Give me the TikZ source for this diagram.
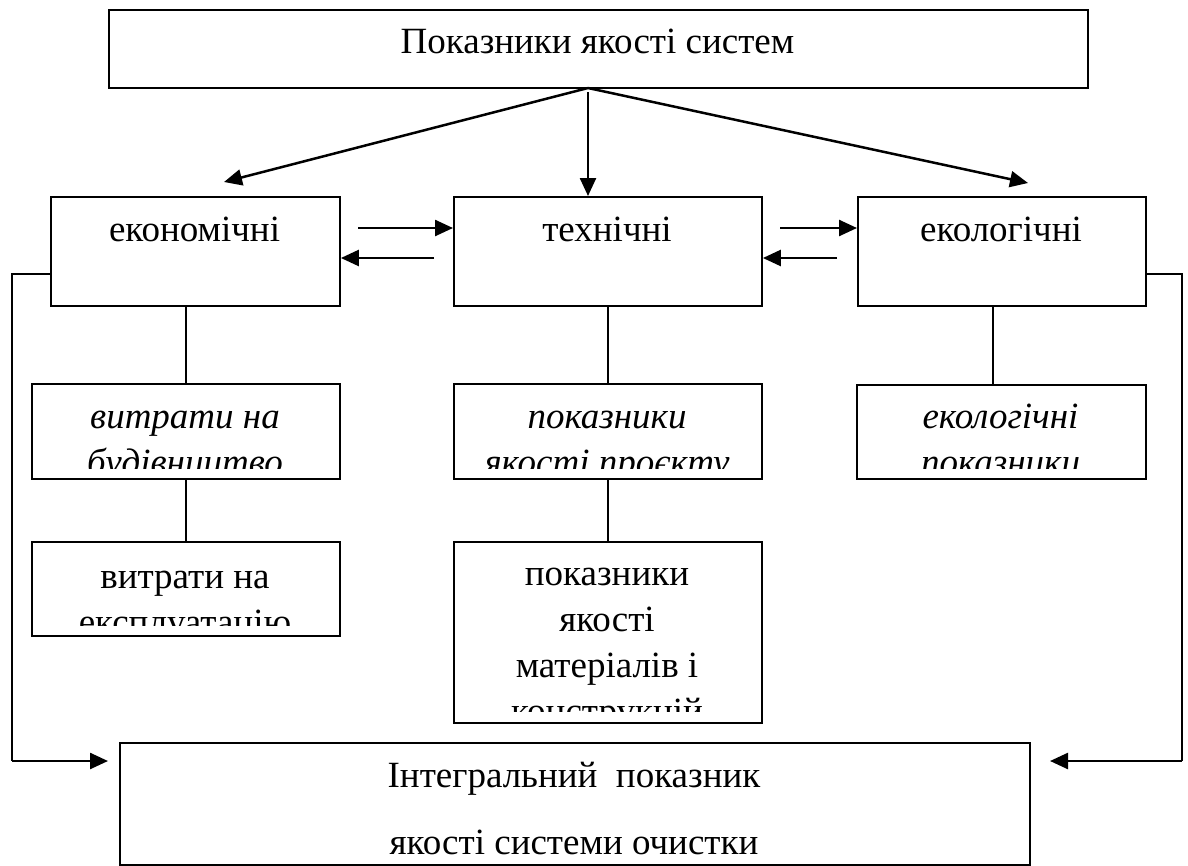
\documentclass[tikz,border=0pt]{standalone}
\usepackage{fontspec}
\setmainfont{Liberation Serif}
\usetikzlibrary{arrows.meta,calc}
\begin{document}
\begin{tikzpicture}[x=1pt,y=-1pt,
  box/.style={draw, line width=1.9pt, rectangle, inner sep=0pt, anchor=north west},
  txt/.style={inner sep=0pt, anchor=base, font=\fontsize{37}{44}\selectfont},
  itxt/.style={inner sep=0pt, anchor=base, font=\fontsize{37}{44}\selectfont\itshape},
  arr/.style={line width=2.5pt, -{Triangle[length=18pt,width=16pt]}},
  link/.style={line width=1.6pt},
]
\useasboundingbox (0,0) rectangle (1188,865);

% boxes
\node[box, minimum width=979pt, minimum height=78pt] (top) at (108,9) {};
\node[box, minimum width=289pt, minimum height=109pt] (econ) at (50,196) {};
\node[box, minimum width=308pt, minimum height=109pt] (tech) at (453,196) {};
\node[box, minimum width=288pt, minimum height=109pt] (ecol) at (857,196) {};
\node[box, minimum width=308pt, minimum height=95pt] (s1) at (31,383) {};
\node[box, minimum width=308pt, minimum height=94pt] (s2) at (31,541) {};
\node[box, minimum width=308pt, minimum height=95pt] (t1) at (453,383) {};
\node[box, minimum width=308pt, minimum height=181pt] (t2) at (453,541) {};
\node[box, minimum width=289pt, minimum height=94pt] (e1) at (856,384) {};
\node[box, minimum width=910pt, minimum height=122pt] (bot) at (119,742) {};

% texts
\node[txt] (topT) at (597.5,53) {Показники якості систем};
\node[txt] (econT) at (194.5,241) {економічні};
\node[txt] (techT) at (607,241) {технічні};
\node[txt] (ecolT) at (1001,241) {екологічні};

\begin{scope}
  \clip (31,383) rectangle (339,468);
  \node[itxt] (s1a) at (185,428) {витрати на};
  \node[itxt] (s1b) at (185,474) {будівництво};
\end{scope}
\begin{scope}
  \clip (31,541) rectangle (339,625);
  \node[txt] (s2a) at (185,588) {витрати на};
  \node[txt] (s2b) at (185,634) {експлуатацію};
\end{scope}
\begin{scope}
  \clip (453,383) rectangle (761,468);
  \node[itxt] (t1a) at (607,428) {показники};
  \node[itxt] (t1b) at (607,474) {якості проєкту};
\end{scope}
\begin{scope}
  \clip (453,541) rectangle (761,711);
  \node[txt] (t2a) at (607,585) {показники};
  \node[txt] (t2b) at (607,631) {якості};
  \node[txt] (t2c) at (607,677) {матеріалів і};
  \node[txt] (t2d) at (607,723) {конструкцій};
\end{scope}
\begin{scope}
  \clip (856,384) rectangle (1145,468);
  \node[itxt] (e1a) at (1000.5,428) {екологічні};
  \node[itxt] (e1b) at (1000.5,474) {показники};
\end{scope}
\node[txt] (botA) at (574,787) {Інтегральний\ \ показник};
\node[txt] (botB) at (574,854) {якості системи очистки};

% arrows from top
\coordinate (src) at (588,88);
\coordinate (vsrc) at (588,92);
\coordinate (ecoTip) at (224,182);
\coordinate (ecolTip) at (1028,183);
\draw[arr] (src) -- (ecoTip);
\draw[arr] (vsrc) -- (vsrc |- tech.north);
\draw[arr] (src) -- (ecolTip);

% horizontal pairs
\coordinate (a1) at (358,228);
\coordinate (a2) at (434,258);
\coordinate (a3) at (780,228);
\coordinate (a4) at (837,258);
\draw[arr] (a1) -- (a1 -| tech.west);
\draw[arr] (a2) -- (a2 -| econ.east);
\draw[arr] (a3) -- (a3 -| ecol.west);
\draw[arr] (a4) -- (a4 -| tech.east);

% vertical links
\draw[link] (s1.north) -- (s1.north |- econ.south);
\draw[link] (s2.north) -- (s2.north |- s1.south);
\draw[link] (t1.north) -- (t1.north |- tech.south);
\draw[link] (t2.north) -- (t2.north |- t1.south);
\coordinate (eL) at ($(e1.north)+(-8.5,0)$);
\draw[link] (eL) -- (eL |- ecol.south);

% side connectors to bottom box
\coordinate (lcorner) at (12,761);
\coordinate (ltip) at (108,761);
\coordinate (rcorner) at (1182,761);
\coordinate (rtip) at (1050,761);
\draw[link] (econ.west |- 0,274) -| (lcorner);
\draw[arr] (lcorner) -- (ltip);
\draw[link] (ecol.east |- 0,274) -| (rcorner);
\draw[arr] (rcorner) -- (rtip);
\end{tikzpicture}
\end{document}
